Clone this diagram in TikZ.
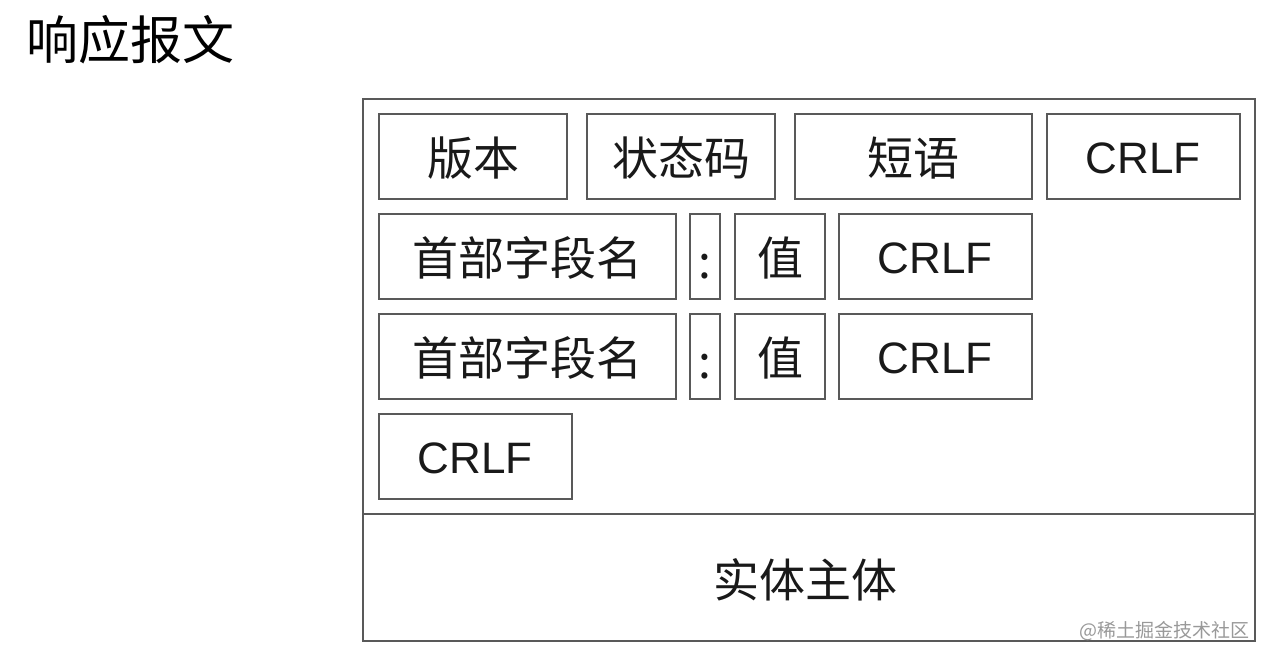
\documentclass[tikz,border=0pt]{standalone}
\usepackage{fontspec}
\setmainfont{Liberation Sans}
\newfontfamily\cjk{Noto Sans CJK SC}
\begin{document}
\begin{tikzpicture}[x=1pt,y=-1pt,
  cell/.style={draw=black!65, line width=1.8pt},
  lbl/.style={font=\cjk\fontsize{46}{50}\selectfont, text=black!90, inner sep=0pt},
  lat/.style={font=\fontsize{44}{50}\selectfont, text=black!90, inner sep=0pt}]
\useasboundingbox (0,0) rectangle (1267,661);
\fill[white] (0,0) rectangle (1267,661);
\node[font=\cjk\fontsize{52}{56}\selectfont, anchor=west, inner sep=0pt] (title) at (26,40) {响应报文};
% outer
\draw[cell] (363,99) rectangle (1255,641);
\draw[cell] (363,514) -- (1255,514);
% row1
\draw[cell] (379,114) rectangle (567,199);
\node[lbl] (v) at (473,158) {版本};
\draw[cell] (587,114) rectangle (775,199);
\node[lbl] (s) at (681,158) {状态码};
\draw[cell] (795,114) rectangle (1032,199);
\node[lbl] (p) at (913,158) {短语};
\draw[cell] (1047,114) rectangle (1240,199);
\node[lat] (c1) at (1143,158) {CRLF};
% row2
\draw[cell] (379,214) rectangle (676,299);
\node[lbl] (h1) at (527,258) {首部字段名};
\draw[cell] (690,214) rectangle (720,299);
\node[lbl] (k1) at (705,267) {:};
\draw[cell] (735,214) rectangle (825,299);
\node[lbl] (z1) at (780,258) {值};
\draw[cell] (839,214) rectangle (1032,299);
\node[lat] (c2) at (935,258) {CRLF};
% row3
\draw[cell] (379,314) rectangle (676,399);
\node[lbl] (h2) at (527,358) {首部字段名};
\draw[cell] (690,314) rectangle (720,399);
\node[lbl] (k2) at (705,367) {:};
\draw[cell] (735,314) rectangle (825,399);
\node[lbl] (z2) at (780,358) {值};
\draw[cell] (839,314) rectangle (1032,399);
\node[lat] (c3) at (935,358) {CRLF};
% row4
\draw[cell] (379,414) rectangle (572,499);
\node[lat] (c4) at (475,458) {CRLF};
% body
\node[lbl] (body) at (805,580) {实体主体};
% watermark
\node[font=\cjk\fontsize{19}{22}\selectfont, text=black!40, anchor=east, inner sep=0pt] (wm) at (1250,631) {@稀土掘金技术社区};
\end{tikzpicture}
\end{document}
